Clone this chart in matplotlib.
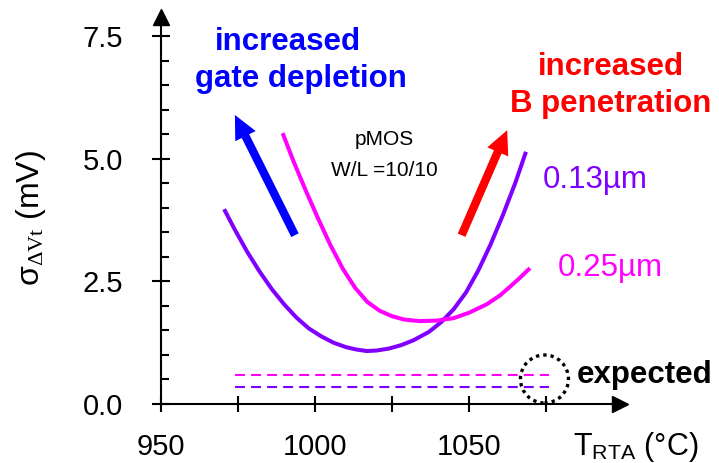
import numpy as np
import matplotlib
matplotlib.use("Agg")
import matplotlib.pyplot as plt
from matplotlib.patches import Ellipse

# ---- data ----
# 0.13 um pMOS: sigma(dVt) vs RTA temperature
t_013 = [970.5, 974, 978, 982, 986, 990, 994, 998, 1002, 1006, 1010, 1013.5,
         1016.8, 1020, 1024, 1028, 1032, 1037, 1041, 1045, 1049, 1053, 1057,
         1061, 1065, 1068.5]
s_013 = [3.97, 3.55, 3.10, 2.70, 2.34, 2.03, 1.76, 1.54, 1.38, 1.25, 1.16, 1.11,
         1.08, 1.09, 1.13, 1.20, 1.30, 1.47, 1.67, 1.93, 2.27, 2.72, 3.25,
         3.85, 4.50, 5.14]

# 0.25 um pMOS
t_025 = [989.5, 993, 997, 1001, 1005, 1009, 1013, 1017, 1021, 1025, 1029, 1034,
         1039.5, 1045, 1050, 1055.7, 1060, 1063.3, 1066.5, 1069.8]
s_025 = [5.52, 4.95, 4.35, 3.78, 3.24, 2.76, 2.37, 2.08, 1.90, 1.79, 1.72, 1.69,
         1.70, 1.75, 1.86, 2.03, 2.21, 2.39, 2.57, 2.77]

# expected (Pelgrom) levels
t_expected = [974, 1076]
exp_025 = 0.60
exp_013 = 0.34

x_ticks = [950, 975, 1000, 1025, 1050, 1075]
x_ticklabels = ["950", "", "1000", "", "1050", ""]
y_ticks = [0.0, 2.5, 5.0, 7.5]
y_ticklabels = ["0.0", "2.5", "5.0", "7.5"]
y_minor = [0.5, 1.0, 1.5, 2.0, 3.0, 3.5, 4.0, 4.5, 5.5, 6.0, 6.5, 7.0]

C013 = "#8000FF"
C025 = "#FF00FF"

plt.rcParams["font.family"] = ["Liberation Sans", "DejaVu Sans"]
plt.rcParams["mathtext.fontset"] = "custom"
plt.rcParams["mathtext.rm"] = "Liberation Serif"
plt.rcParams["mathtext.it"] = "Liberation Serif:italic"
plt.rcParams["mathtext.bf"] = "Liberation Serif:bold"
plt.rcParams["mathtext.sf"] = "Liberation Sans"

fig = plt.figure(figsize=(7.19, 4.63), dpi=100)
ax = fig.add_axes([0, 0, 1, 1])
ax.set_xlim(897.73, 1131.17)
ax.set_ylim(-1.202, 8.233)
ax.patch.set_visible(False)

# axes drawn as arrows crossing at (950, 0)
for s in ("top", "right"):
    ax.spines[s].set_visible(False)
ax.spines["left"].set_position(("data", 950))
ax.spines["bottom"].set_position(("data", 0))
ax.spines["left"].set_bounds(0, 7.9)
ax.spines["bottom"].set_bounds(950, 1099)
for s in ("left", "bottom"):
    ax.spines[s].set_linewidth(1.5)
ax.plot([950], [7.88], marker="^", ms=11, color="k", clip_on=False)
ax.plot([1098.9], [0], marker=">", ms=11, color="k", clip_on=False)

ax.set_xticks(x_ticks, labels=x_ticklabels)
ax.set_yticks(y_ticks, labels=y_ticklabels)
ax.set_yticks(y_minor, minor=True)
ax.tick_params(axis="x", direction="inout", length=12, width=1.5,
               labelsize=21, pad=15)
ax.tick_params(axis="y", which="major", direction="inout", length=13,
               width=1.5, labelsize=21, pad=21)
ax.tick_params(axis="y", which="minor", direction="in", length=6, width=1.5)

# curves
ax.plot(t_013, s_013, color=C013, lw=2.9, solid_joinstyle="round",
        solid_capstyle="butt")
ax.plot(t_025, s_025, color=C025, lw=2.9, solid_joinstyle="round",
        solid_capstyle="butt")

# expected levels
ax.plot(t_expected, [exp_025] * 2, color=C025, lw=1.5, ls=(0, (4.8, 2.9)))
ax.plot(t_expected, [exp_013] * 2, color=C013, lw=1.5, ls=(0, (4.8, 2.9)))
ax.add_patch(Ellipse((1074.5, 0.51), 15.6, 0.978, fill=False, ec="k",
                     lw=2.4, ls=(0, (1, 1.2)), clip_on=False))
ax.text(1085, 0.42, "expected", fontsize=22.5, fontweight="bold",
        ha="left", va="baseline")

# trend arrows
ax.annotate("", xy=(974.0, 5.89), xytext=(993.5, 3.44),
            arrowprops=dict(arrowstyle="simple,head_length=1.7,head_width=1.64,tail_width=0.6",
                            mutation_scale=10, fc="#0000FF", ec="none",
                            shrinkA=0, shrinkB=0))
ax.annotate("", xy=(1062.4, 5.58), xytext=(1047.6, 3.44),
            arrowprops=dict(arrowstyle="simple,head_length=1.7,head_width=1.64,tail_width=0.6",
                            mutation_scale=10, fc="#FF0000", ec="none",
                            shrinkA=0, shrinkB=0))

ax.text(991.2, 7.21, "increased", color="#0000FF", fontsize=22.5,
        fontweight="bold", ha="center", va="baseline")
ax.text(995.5, 6.45, "gate depletion", color="#0000FF", fontsize=22.5,
        fontweight="bold", ha="center", va="baseline")
ax.text(1096.1, 6.70, "increased", color="#FF0000", fontsize=22.5,
        fontweight="bold", ha="center", va="baseline")
ax.text(1096.1, 5.96, "B penetration", color="#FF0000", fontsize=22.5,
        fontweight="bold", ha="center", va="baseline")

ax.text(1022.5, 5.28, "pMOS", fontsize=15, ha="center", va="baseline")
ax.text(1022.4, 4.65, "W/L =10/10", fontsize=15, ha="center", va="baseline")

ax.text(1073.9, 4.40, "0.13µm", color=C013, fontsize=22.5, ha="left",
        va="baseline")
ax.text(1078.7, 2.61, "0.25µm", color=C025, fontsize=22.5, ha="left",
        va="baseline")

# axis titles
ax.text(907.8, 3.79, r"σ$_{\Delta\mathrm{Vt}}$ (mV)", rotation=90,
        fontsize=23, ha="center", va="center")
ax.text(1083.8, -1.04, r"T$_{\mathsf{RTA}}$ (°C)", fontsize=22,
        ha="left", va="baseline")

fig.savefig("out.png", dpi=100)
